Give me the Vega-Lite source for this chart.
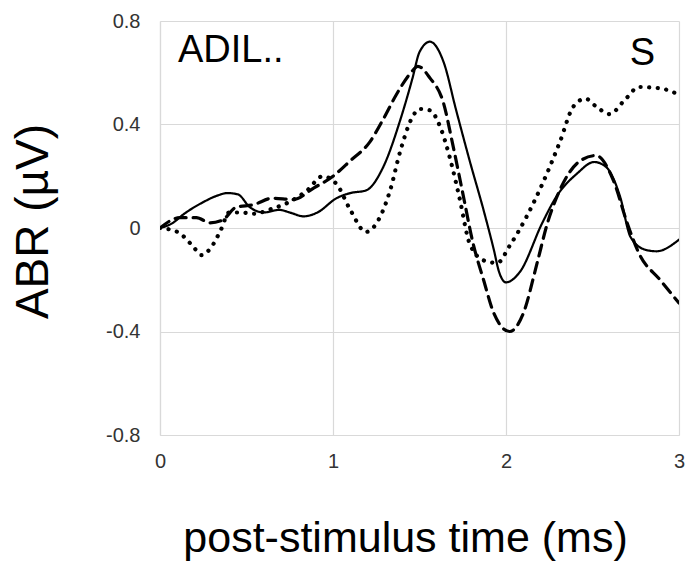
{
  "$schema": "https://vega.github.io/schema/vega-lite/v6.json",
  "autosize": "none",
  "width": 519,
  "height": 414,
  "padding": {"left": 160, "top": 21, "right": 8, "bottom": 126},
  "background": "white",
  "config": {
    "view": {"stroke": null},
    "font": "Liberation Sans",
    "axis": {"gridColor": "#d9d9d9", "gridWidth": 1.2, "domainColor": "#d9d9d9", "domainWidth": 1.2, "ticks": false, "labelFont": "Liberation Sans", "titleFont": "Liberation Sans", "labelColor": "#333333", "titleColor": "#000000", "titleFontWeight": "normal"}
  },
  "datasets": {
    "abr": [
      {"t": 0, "v": 0, "s": "solid"},
      {"t": 0.075, "v": 0.02, "s": "solid"},
      {"t": 0.13, "v": 0.05, "s": "solid"},
      {"t": 0.25, "v": 0.1, "s": "solid"},
      {"t": 0.33, "v": 0.125, "s": "solid"},
      {"t": 0.39, "v": 0.135, "s": "solid"},
      {"t": 0.45, "v": 0.13, "s": "solid"},
      {"t": 0.52, "v": 0.08, "s": "solid"},
      {"t": 0.6, "v": 0.06, "s": "solid"},
      {"t": 0.69, "v": 0.07, "s": "solid"},
      {"t": 0.75, "v": 0.06, "s": "solid"},
      {"t": 0.83, "v": 0.045, "s": "solid"},
      {"t": 0.91, "v": 0.06, "s": "solid"},
      {"t": 1.02, "v": 0.115, "s": "solid"},
      {"t": 1.1, "v": 0.135, "s": "solid"},
      {"t": 1.19, "v": 0.145, "s": "solid"},
      {"t": 1.29, "v": 0.235, "s": "solid"},
      {"t": 1.39, "v": 0.42, "s": "solid"},
      {"t": 1.46, "v": 0.58, "s": "solid"},
      {"t": 1.5, "v": 0.68, "s": "solid"},
      {"t": 1.56, "v": 0.72, "s": "solid"},
      {"t": 1.64, "v": 0.64, "s": "solid"},
      {"t": 1.71, "v": 0.46, "s": "solid"},
      {"t": 1.79, "v": 0.26, "s": "solid"},
      {"t": 1.87, "v": 0.07, "s": "solid"},
      {"t": 1.93, "v": -0.085, "s": "solid"},
      {"t": 1.96, "v": -0.17, "s": "solid"},
      {"t": 2.0, "v": -0.21, "s": "solid"},
      {"t": 2.08, "v": -0.17, "s": "solid"},
      {"t": 2.21, "v": 0.02, "s": "solid"},
      {"t": 2.29, "v": 0.12, "s": "solid"},
      {"t": 2.41, "v": 0.21, "s": "solid"},
      {"t": 2.51, "v": 0.255, "s": "solid"},
      {"t": 2.58, "v": 0.235, "s": "solid"},
      {"t": 2.66, "v": 0.12, "s": "solid"},
      {"t": 2.72, "v": -0.035, "s": "solid"},
      {"t": 2.81, "v": -0.085, "s": "solid"},
      {"t": 2.87, "v": -0.09, "s": "solid"},
      {"t": 3.0, "v": -0.045, "s": "solid"},

      {"t": 0, "v": 0, "s": "dashed"},
      {"t": 0.115, "v": 0.04, "s": "dashed"},
      {"t": 0.21, "v": 0.04, "s": "dashed"},
      {"t": 0.29, "v": 0.02, "s": "dashed"},
      {"t": 0.36, "v": 0.03, "s": "dashed"},
      {"t": 0.44, "v": 0.08, "s": "dashed"},
      {"t": 0.54, "v": 0.09, "s": "dashed"},
      {"t": 0.65, "v": 0.115, "s": "dashed"},
      {"t": 0.77, "v": 0.11, "s": "dashed"},
      {"t": 0.89, "v": 0.155, "s": "dashed"},
      {"t": 1.0, "v": 0.2, "s": "dashed"},
      {"t": 1.1, "v": 0.26, "s": "dashed"},
      {"t": 1.21, "v": 0.33, "s": "dashed"},
      {"t": 1.29, "v": 0.42, "s": "dashed"},
      {"t": 1.37, "v": 0.52, "s": "dashed"},
      {"t": 1.45, "v": 0.6, "s": "dashed"},
      {"t": 1.49, "v": 0.625, "s": "dashed"},
      {"t": 1.56, "v": 0.58, "s": "dashed"},
      {"t": 1.64, "v": 0.48, "s": "dashed"},
      {"t": 1.69, "v": 0.33, "s": "dashed"},
      {"t": 1.75, "v": 0.135, "s": "dashed"},
      {"t": 1.81, "v": -0.06, "s": "dashed"},
      {"t": 1.87, "v": -0.2, "s": "dashed"},
      {"t": 1.93, "v": -0.33, "s": "dashed"},
      {"t": 2.02, "v": -0.4, "s": "dashed"},
      {"t": 2.1, "v": -0.33, "s": "dashed"},
      {"t": 2.18, "v": -0.135, "s": "dashed"},
      {"t": 2.24, "v": 0.02, "s": "dashed"},
      {"t": 2.31, "v": 0.145, "s": "dashed"},
      {"t": 2.43, "v": 0.26, "s": "dashed"},
      {"t": 2.52, "v": 0.28, "s": "dashed"},
      {"t": 2.62, "v": 0.185, "s": "dashed"},
      {"t": 2.7, "v": 0.02, "s": "dashed"},
      {"t": 2.77, "v": -0.1, "s": "dashed"},
      {"t": 2.89, "v": -0.2, "s": "dashed"},
      {"t": 3.0, "v": -0.29, "s": "dashed"},

      {"t": 0, "v": 0, "s": "dotted"},
      {"t": 0.1, "v": -0.015, "s": "dotted"},
      {"t": 0.19, "v": -0.07, "s": "dotted"},
      {"t": 0.24, "v": -0.105, "s": "dotted"},
      {"t": 0.29, "v": -0.08, "s": "dotted"},
      {"t": 0.35, "v": -0.01, "s": "dotted"},
      {"t": 0.4, "v": 0.06, "s": "dotted"},
      {"t": 0.47, "v": 0.06, "s": "dotted"},
      {"t": 0.54, "v": 0.055, "s": "dotted"},
      {"t": 0.65, "v": 0.075, "s": "dotted"},
      {"t": 0.73, "v": 0.095, "s": "dotted"},
      {"t": 0.85, "v": 0.145, "s": "dotted"},
      {"t": 0.94, "v": 0.2, "s": "dotted"},
      {"t": 1.02, "v": 0.17, "s": "dotted"},
      {"t": 1.1, "v": 0.07, "s": "dotted"},
      {"t": 1.19, "v": -0.015, "s": "dotted"},
      {"t": 1.27, "v": 0.04, "s": "dotted"},
      {"t": 1.33, "v": 0.145, "s": "dotted"},
      {"t": 1.39, "v": 0.3, "s": "dotted"},
      {"t": 1.46, "v": 0.43, "s": "dotted"},
      {"t": 1.5, "v": 0.46, "s": "dotted"},
      {"t": 1.56, "v": 0.455, "s": "dotted"},
      {"t": 1.62, "v": 0.39, "s": "dotted"},
      {"t": 1.68, "v": 0.26, "s": "dotted"},
      {"t": 1.73, "v": 0.12, "s": "dotted"},
      {"t": 1.79, "v": -0.06, "s": "dotted"},
      {"t": 1.87, "v": -0.125, "s": "dotted"},
      {"t": 1.95, "v": -0.135, "s": "dotted"},
      {"t": 2.02, "v": -0.07, "s": "dotted"},
      {"t": 2.12, "v": 0.045, "s": "dotted"},
      {"t": 2.21, "v": 0.17, "s": "dotted"},
      {"t": 2.31, "v": 0.33, "s": "dotted"},
      {"t": 2.39, "v": 0.47, "s": "dotted"},
      {"t": 2.46, "v": 0.5, "s": "dotted"},
      {"t": 2.52, "v": 0.47, "s": "dotted"},
      {"t": 2.6, "v": 0.44, "s": "dotted"},
      {"t": 2.68, "v": 0.49, "s": "dotted"},
      {"t": 2.77, "v": 0.545, "s": "dotted"},
      {"t": 2.89, "v": 0.54, "s": "dotted"},
      {"t": 3.0, "v": 0.515, "s": "dotted"}
    ],
    "labels": [
      {"label": "ADIL..", "t": 0.104, "v": 0.64, "pos": "left"},
      {"label": "S", "t": 2.862, "v": 0.63, "pos": "right"}
    ]
  },
  "encoding": {
    "x": {"field": "t", "type": "quantitative", "scale": {"domain": [0, 3], "nice": false, "zero": false},
      "axis": {"values": [0, 1, 2, 3], "title": "post-stimulus time (ms)", "labelFontSize": 20, "labelPadding": 16, "labelFlush": false, "titleFontSize": 43, "titleX": 245, "titleY": 116, "titleBaseline": "alphabetic", "titleAnchor": null}},
    "y": {"field": "v", "type": "quantitative", "scale": {"domain": [-0.8, 0.8], "nice": false},
      "axis": {"values": [-0.8, -0.4, 0, 0.4, 0.8], "title": "ABR (µV)", "labelExpr": "datum.value == 0 ? '0' : (datum.value < 0 ? '-' : '') + format(abs(datum.value), '.1f')", "labelFontSize": 20, "labelPadding": 20, "titleFontSize": 46, "titleAngle": -90, "titleX": -127, "titleY": 200, "titleAlign": "center", "titleBaseline": "middle"}}
  },
  "layer": [
    {
      "data": {"name": "abr"},
      "mark": {"type": "line", "interpolate": "monotone", "color": "black", "strokeCap": "round", "clip": true},
      "encoding": {
        "detail": {"field": "s"},
        "strokeDash": {"field": "s", "type": "nominal", "scale": {"domain": ["solid", "dashed", "dotted"], "range": [[1, 0], [11, 7], [0.1, 8.5]]}, "legend": null},
        "strokeWidth": {"field": "s", "type": "nominal", "scale": {"domain": ["solid", "dashed", "dotted"], "range": [2.2, 4.2, 3.6]}, "legend": null}
      }
    },
    {
      "data": {"name": "labels"},
      "transform": [{"filter": "datum.pos == 'left'"}],
      "mark": {"type": "text", "align": "left", "baseline": "alphabetic", "fontSize": 38, "font": "Liberation Sans", "color": "black"},
      "encoding": {"text": {"field": "label"}}
    },
    {
      "data": {"name": "labels"},
      "transform": [{"filter": "datum.pos == 'right'"}],
      "mark": {"type": "text", "align": "right", "baseline": "alphabetic", "fontSize": 38, "font": "Liberation Sans", "color": "black"},
      "encoding": {"text": {"field": "label"}}
    }
  ]
}
